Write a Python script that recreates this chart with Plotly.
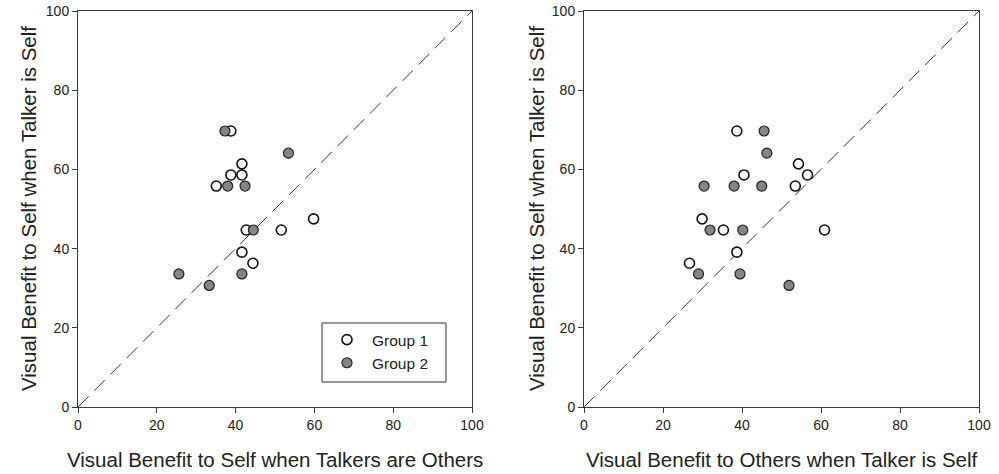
import plotly.graph_objects as go

# Left panel: Self (talkers others) vs Self (talker self)
g1_left_x = [38.8, 41.6, 38.8, 41.6, 35.1, 42.7, 51.6, 59.8, 41.6, 44.4]
g1_left_y = [69.7, 61.4, 58.6, 58.6, 55.8, 44.7, 44.7, 47.5, 39.1, 36.3]
g2_left_x = [37.3, 53.4, 38.0, 42.4, 44.5, 25.6, 41.6, 33.3]
g2_left_y = [69.7, 64.1, 55.8, 55.8, 44.7, 33.6, 33.6, 30.7]

# Right panel: Others (talker self) vs Self (talker self)
g1_right_x = [38.7, 54.3, 56.6, 40.5, 53.5, 29.9, 35.3, 60.9, 38.7, 26.7]
g1_right_y = [69.7, 61.4, 58.6, 58.6, 55.8, 47.5, 44.7, 44.7, 39.1, 36.3]
g2_right_x = [45.6, 46.3, 30.4, 38.0, 45.0, 31.9, 40.2, 29.0, 39.5, 51.9]
g2_right_y = [69.7, 64.1, 55.8, 55.8, 55.8, 44.7, 44.7, 33.6, 33.6, 30.7]

identity = [0, 100]
tick_vals = [0, 20, 40, 60, 80, 100]

x_titles = ["Visual Benefit to Self when Talkers are Others",
            "Visual Benefit to Others when Talker is Self"]
y_titles = ["Visual Benefit to Self when Talker is Self",
            "Visual Benefit to Self when Talker is Self"]

FONT = "Liberation Sans, Arial, sans-serif"
INK = "#222222"
AXIS = "#3a3a3a"

m1 = dict(size=10, color="white", line=dict(color="#111111", width=1.6))
m2 = dict(size=10, color="#858585", line=dict(color="#222222", width=1.2))

fig = go.Figure()
for i, (xa, ya) in enumerate([("x", "y"), ("x2", "y2")]):
    fig.add_trace(go.Scatter(x=identity, y=identity, mode="lines", xaxis=xa, yaxis=ya,
                             line=dict(color="#333333", width=1, dash="15px,8px"),
                             showlegend=False, hoverinfo="skip"))

fig.add_trace(go.Scatter(x=g1_left_x, y=g1_left_y, mode="markers", marker=m1,
                         name="Group 1", xaxis="x", yaxis="y", legendgroup="g1"))
fig.add_trace(go.Scatter(x=g2_left_x, y=g2_left_y, mode="markers", marker=m2,
                         name="Group 2", xaxis="x", yaxis="y", legendgroup="g2"))
fig.add_trace(go.Scatter(x=g1_right_x, y=g1_right_y, mode="markers", marker=m1,
                         name="Group 1", xaxis="x2", yaxis="y2", legendgroup="g1",
                         showlegend=False))
fig.add_trace(go.Scatter(x=g2_right_x, y=g2_right_y, mode="markers", marker=m2,
                         name="Group 2", xaxis="x2", yaxis="y2", legendgroup="g2",
                         showlegend=False))

W, H = 999, 474


def px(x):
    return x / W


def py(y):
    return 1 - y / H


dom_y = [py(407), py(11)]
doms_x = [[px(78), px(472)], [px(584), px(979)]]

axis_common = dict(range=[0, 100], tickvals=tick_vals, ticks="outside", ticklen=5,
                   tickwidth=1, tickcolor=AXIS, showline=True, linecolor=AXIS,
                   linewidth=1, mirror=True, showgrid=False, zeroline=False,
                   automargin=False, ticklabeloverflow="allow",
                   tickfont=dict(family=FONT, size=14, color=INK), fixedrange=True)

fig.update_layout(
    width=W, height=H, margin=dict(l=0, r=0, t=0, b=0, autoexpand=False),
    paper_bgcolor="white", plot_bgcolor="white",
    font=dict(family=FONT, color=INK),
    xaxis=dict(domain=doms_x[0], anchor="y", **axis_common),
    yaxis=dict(domain=dom_y, anchor="x", **axis_common),
    xaxis2=dict(domain=doms_x[1], anchor="y2", **axis_common),
    yaxis2=dict(domain=dom_y, anchor="x2", **axis_common),
    legend=dict(x=px(322), y=py(323), xanchor="left", yanchor="top",
                borderwidth=0, bgcolor="rgba(0,0,0,0)",
                font=dict(family=FONT, size=15.5, color=INK), itemwidth=40,
                tracegroupgap=0),
    showlegend=True,
    shapes=[dict(type="rect", xref="paper", yref="paper",
                 x0=px(322), x1=px(446), y0=py(382), y1=py(323),
                 line=dict(color="#333333", width=1), fillcolor="white",
                 layer="above")],
)

anns = []
for i in range(2):
    cx = (doms_x[i][0] + doms_x[i][1]) / 2
    anns.append(dict(text=x_titles[i], xref="paper", yref="paper", x=cx, y=py(459),
                     xanchor="center", yanchor="middle", showarrow=False,
                     font=dict(family=FONT, size=20.5, color=INK)))
for i, xx in enumerate([28, 536]):
    anns.append(dict(text=y_titles[i], xref="paper", yref="paper", x=px(xx),
                     y=py(209), xanchor="center", yanchor="middle", textangle=-90,
                     showarrow=False, font=dict(family=FONT, size=20.5, color=INK)))
fig.update_layout(annotations=anns)

# remove the default page margin so the figure fills the window exactly
fig.write_html("out.html", config={"displayModeBar": False},
               post_script="document.body.style.margin='0px';")
